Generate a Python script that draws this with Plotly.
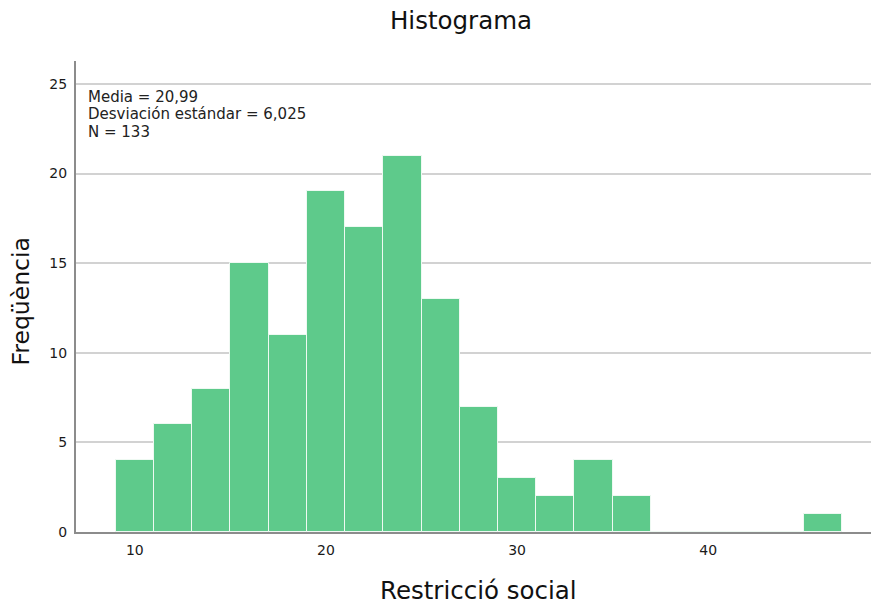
import plotly.graph_objects as go

bin_centers = [10, 12, 14, 16, 18, 20, 22, 24, 26, 28, 30, 32, 34, 36, 38, 40, 42, 44, 46]
counts = [4, 6, 8, 15, 11, 19, 17, 21, 13, 7, 3, 2, 4, 2, 0, 0, 0, 0, 1]
bin_width = 2
stats_lines = ["Media = 20,99", "Desviación estándar = 6,025", "N = 133"]
x_ticks = [10, 20, 30, 40]
y_ticks = [0, 5, 10, 15, 20, 25]

FONT = "DejaVu Sans"
W, H = 871, 606
ML, MR, MT, MB = 76, 0, 61, 74
PW, PH = W - ML - MR, H - MT - MB


def px_x(x):
    return (x - ML) / PW


def px_y(y):
    return (H - MB - y) / PH


fig = go.Figure()
fig.add_trace(go.Bar(
    x=bin_centers, y=counts, width=bin_width,
    marker=dict(color="#5ECA8B", line=dict(color="#eef9f2", width=1)),
    hoverinfo="x+y",
))

fig.update_layout(
    width=W, height=H,
    margin=dict(l=ML, r=MR, t=MT, b=MB, autoexpand=False),
    plot_bgcolor="white", paper_bgcolor="white",
    showlegend=False,
    font=dict(family=FONT, color="#222"),
    bargap=0,
    title=dict(text="Histograma", x=461 / W, xref="container", xanchor="center",
               y=1 - 20 / H, yref="container", yanchor="middle",
               font=dict(family=FONT, size=24.5, color="#111")),
)

fig.update_xaxes(
    range=[6.92, 48.52], tickvals=x_ticks, ticktext=[str(v) for v in x_ticks],
    showgrid=False, zeroline=False,
    showline=True, linecolor="#8c8c8c", linewidth=2,
    ticks="outside", ticklen=4, tickcolor="rgba(0,0,0,0)",
    tickfont=dict(family=FONT, size=14, color="#1a1a1a"),
)
fig.update_yaxes(
    range=[0, 26.28], tickvals=y_ticks, ticktext=[str(v) for v in y_ticks],
    showgrid=True, gridcolor="#d2d2d2", gridwidth=1.5, zeroline=False,
    showline=True, linecolor="#8c8c8c", linewidth=2,
    ticks="outside", ticklen=4, tickcolor="rgba(0,0,0,0)",
    tickfont=dict(family=FONT, size=14, color="#1a1a1a"),
)

# axis titles
fig.add_annotation(text="Restricció social", xref="paper", yref="paper",
                   x=px_x(478.5), y=px_y(590), xanchor="center", yanchor="middle",
                   showarrow=False, font=dict(family=FONT, size=24.5, color="#111"))
fig.add_annotation(text="Freqüència", xref="paper", yref="paper", textangle=-90,
                   x=px_x(20), y=px_y(301.5), xanchor="center", yanchor="middle",
                   showarrow=False, font=dict(family=FONT, size=23.5, color="#111"))

for i, line in enumerate(stats_lines):
    ypx = 96.5 + 17.5 * i
    fig.add_annotation(
        text=line, xref="paper", yref="paper",
        x=px_x(86), y=px_y(ypx),
        xanchor="left", yanchor="middle", showarrow=False,
        font=dict(family=FONT, size=15, color="#222"),
    )

fig.write_html("out.html", config={"displayModeBar": False},
               post_script="document.body.style.margin='0';document.body.style.overflow='hidden';")
